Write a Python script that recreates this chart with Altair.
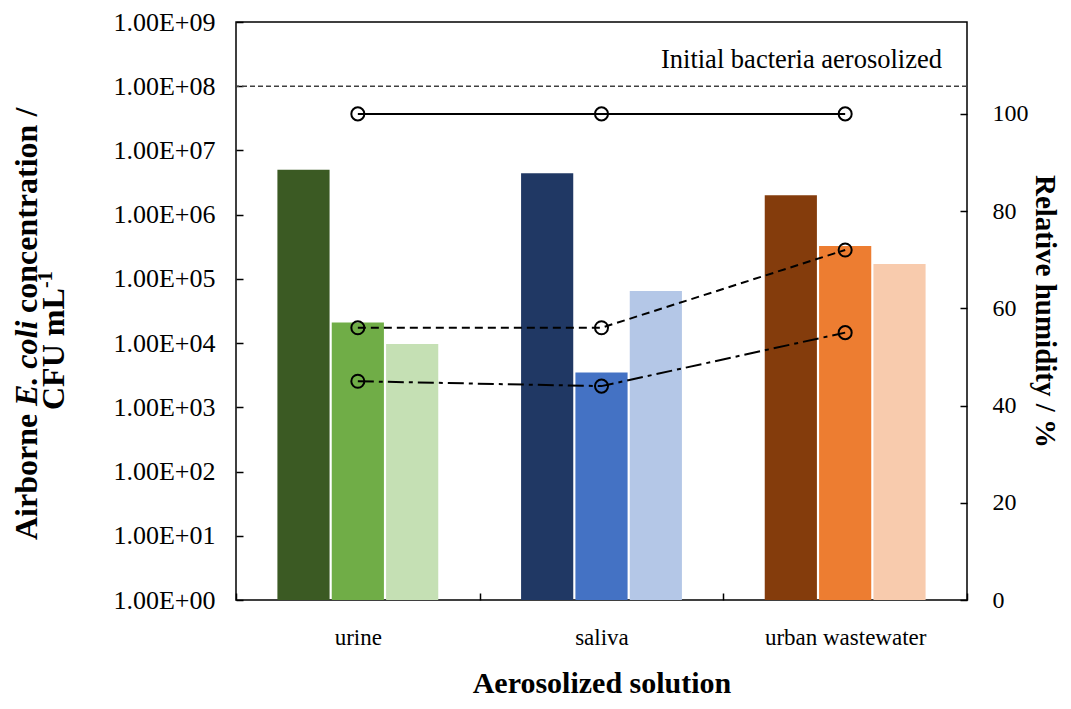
import altair as alt
import pandas as pd

# ---------------- data ----------------
categories = ["urine", "saliva", "urban wastewater"]
bar_levels = ["RH high", "RH mid", "RH low"]
conc_high = [5.0e6, 4.4e6, 2.0e6]
conc_mid = [2.1e4, 3.5e3, 3.25e5]
conc_low = [9.7e3, 6.5e4, 1.7e5]

rh_series = ["solid", "dashed", "dashdot"]
rh_solid = [100, 100, 100]
rh_dashed = [56, 56, 72]
rh_dashdot = [45, 44, 55]

initial_bacteria = [1e8]
initial_label = ["Initial bacteria aerosolized"]

conc_ticks = [1e0, 1e1, 1e2, 1e3, 1e4, 1e5, 1e6, 1e7, 1e8, 1e9]
rh_ticks = [0, 20, 40, 60, 80, 100]

bar_colors = [
    "#3B5A23", "#70AD47", "#C5E0B4",   # urine
    "#203864", "#4472C4", "#B4C7E7",   # saliva
    "#843C0C", "#ED7D31", "#F8CBAD",   # urban wastewater
]

FONT = "Liberation Serif"

# ---------------- tables ----------------
rows = []
for i, c in enumerate(categories):
    for lvl, vals in zip(bar_levels, [conc_high, conc_mid, conc_low]):
        rows.append({"solution": c, "level": lvl, "key": c + "|" + lvl, "conc": vals[i]})
bars_df = pd.DataFrame(rows)
color_domain = [c + "|" + l for c in categories for l in bar_levels]

rh_rows = []
for s, vals in zip(rh_series, [rh_solid, rh_dashed, rh_dashdot]):
    for i, c in enumerate(categories):
        rh_rows.append({"solution": c, "series": s, "rh": vals[i]})
rh_df = pd.DataFrame(rh_rows)

ref_df = pd.DataFrame({"conc": initial_bacteria, "label": initial_label})

# ---------------- encodings ----------------
x_enc = alt.X(
    "solution:N",
    sort=categories,
    scale=alt.Scale(paddingInner=0, paddingOuter=0),
    axis=alt.Axis(
        orient="bottom", offset=-7, tickSize=7, domain=False, tickBand="extent",
        labelAngle=0, labelPadding=26, labelFontSize=23, labelFont=FONT,
        labelColor="black", tickColor="black", tickWidth=1.5,
        title="Aerosolized solution", titleFontSize=30, titleFont=FONT,
        titleFontWeight="bold", titleColor="black", titlePadding=19,
    ),
)

log_scale = alt.Scale(type="log", domain=[1, 1e9], nice=False)
y_left = alt.Y(
    "conc:Q",
    scale=log_scale,
    axis=alt.Axis(
        orient="left", values=conc_ticks, offset=-7, tickSize=7, domain=False,
        labelExpr="'1.00E+0' + format(log(datum.value) / LN10, '.0f')",
        labelPadding=21, labelFontSize=26, labelFont=FONT, labelColor="black",
        tickColor="black", tickWidth=1.5, grid=False, title=None,
    ),
)

y_right = alt.Y(
    "rh:Q",
    scale=alt.Scale(domain=[0, 118.9], nice=False, zero=True),
    axis=alt.Axis(
        orient="right", values=rh_ticks, offset=-7, tickSize=7, domain=False,
        labelPadding=25, labelFontSize=24, labelFont=FONT, labelColor="black",
        tickColor="black", tickWidth=1.5, grid=False,
        title="Relative humidity / %", titleFontSize=29, titleFont=FONT,
        titleFontWeight="bold", titleColor="black", titlePadding=1,
    ),
)

# ---------------- left layer ----------------
bars = alt.Chart(bars_df).mark_bar().encode(
    x=x_enc,
    xOffset=alt.XOffset("level:N", sort=bar_levels,
                        scale=alt.Scale(paddingInner=0.04, paddingOuter=0.762)),
    y=y_left,
    y2=alt.datum(1),
    color=alt.Color("key:N", scale=alt.Scale(domain=color_domain, range=bar_colors), legend=None),
)

ref_rule = alt.Chart(ref_df).mark_rule(color="#404040", strokeDash=[5, 3], strokeWidth=1.4).encode(
    y=y_left,
)

ref_text = alt.Chart(ref_df).mark_text(
    align="right", baseline="alphabetic", dy=-18, fontSize=26.5, font=FONT, color="black"
).encode(
    x=alt.value(706),
    y=y_left,
    text="label:N",
)

def title_piece(txt, x, y, size=32, style="normal"):
    return alt.Chart(pd.DataFrame({"t": [txt]})).mark_text(
        angle=270, align="left", baseline="alphabetic", fontSize=size,
        font=FONT, fontWeight="bold", fontStyle=style, color="black",
    ).encode(x=alt.value(x), y=alt.value(y), text="t:N")

left_title = [
    title_piece("Airborne", -199, 518),
    title_piece("E. coli", -199, 384, style="italic"),
    title_piece("concentration /", -199, 291),
    title_piece("CFU mL", -172, 388),
    title_piece("-1", -184, 266, size=20),
]

left = alt.layer(bars, ref_rule, ref_text, *left_title)

# ---------------- right layer ----------------
lines = alt.Chart(rh_df).mark_line(color="black", strokeWidth=2).encode(
    x=x_enc,
    y=y_right,
    detail="series:N",
    strokeDash=alt.StrokeDash(
        "series:N",
        scale=alt.Scale(domain=rh_series, range=[[1, 0], [8, 5], [16, 5, 4, 5]]),
        legend=None,
    ),
)

points = alt.Chart(rh_df).mark_point(
    shape="circle", filled=False, stroke="black", strokeWidth=2,
    size=170, opacity=1,
).encode(
    x=x_enc,
    y=y_right,
    detail="series:N",
)

right = alt.layer(lines, points)

chart = alt.layer(left, right).resolve_scale(y="independent").properties(
    width=731,
    height=578,
    autosize=alt.AutoSizeParams(type="none"),
    padding={"left": 228, "top": 14, "right": 96, "bottom": 101},
).configure(font=FONT).configure_view(stroke="black", strokeWidth=1.5)

chart.save("out.html", embed_options={"renderer": "svg", "actions": False})
